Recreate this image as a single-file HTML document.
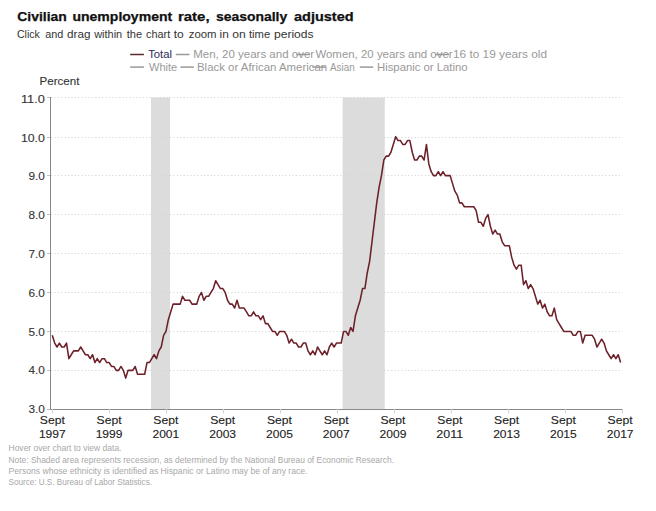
<!DOCTYPE html>
<html><head><meta charset="utf-8"><style>
html,body{margin:0;padding:0;background:#fff;width:656px;height:511px;overflow:hidden}
svg{display:block;font-family:"Liberation Sans", sans-serif}
</style></head><body>
<svg width="656" height="511" viewBox="0 0 656 511" font-family='"Liberation Sans", sans-serif'><text x="17.19" y="21.2" font-size="12.3" fill="#111" font-weight="bold" text-anchor="start" textLength="49.62" lengthAdjust="spacingAndGlyphs" stroke="#111" stroke-width="0.25" >Civilian</text>
<text x="72.4" y="21.2" font-size="12.3" fill="#111" font-weight="bold" text-anchor="start" textLength="99.8" lengthAdjust="spacingAndGlyphs" stroke="#111" stroke-width="0.25" >unemployment</text>
<text x="177.96" y="21.2" font-size="12.3" fill="#111" font-weight="bold" text-anchor="start" textLength="31.67" lengthAdjust="spacingAndGlyphs" stroke="#111" stroke-width="0.25" >rate,</text>
<text x="216.0" y="21.2" font-size="12.3" fill="#111" font-weight="bold" text-anchor="start" textLength="71.2" lengthAdjust="spacingAndGlyphs" stroke="#111" stroke-width="0.25" >seasonally</text>
<text x="294.0" y="21.2" font-size="12.3" fill="#111" font-weight="bold" text-anchor="start" textLength="59.61" lengthAdjust="spacingAndGlyphs" stroke="#111" stroke-width="0.25" >adjusted</text>
<text x="16.97" y="37.8" font-size="10.5" fill="#333" font-weight="normal" text-anchor="start" textLength="22.86" lengthAdjust="spacingAndGlyphs" >Click</text>
<text x="45.17" y="37.8" font-size="10.5" fill="#333" font-weight="normal" text-anchor="start" textLength="18.06" lengthAdjust="spacingAndGlyphs" >and</text>
<text x="67.0" y="37.8" font-size="10.5" fill="#333" font-weight="normal" text-anchor="start" textLength="23.43" lengthAdjust="spacingAndGlyphs" >drag</text>
<text x="94.18" y="37.8" font-size="10.5" fill="#333" font-weight="normal" text-anchor="start" textLength="28.02" lengthAdjust="spacingAndGlyphs" >within</text>
<text x="126.8" y="37.8" font-size="10.5" fill="#333" font-weight="normal" text-anchor="start" textLength="15.4" lengthAdjust="spacingAndGlyphs" >the</text>
<text x="146.0" y="37.8" font-size="10.5" fill="#333" font-weight="normal" text-anchor="start" textLength="24.21" lengthAdjust="spacingAndGlyphs" >chart</text>
<text x="173.8" y="37.8" font-size="10.5" fill="#333" font-weight="normal" text-anchor="start" textLength="10.0" lengthAdjust="spacingAndGlyphs" >to</text>
<text x="188.77" y="37.8" font-size="10.5" fill="#333" font-weight="normal" text-anchor="start" textLength="27.85" lengthAdjust="spacingAndGlyphs" >zoom</text>
<text x="219.6" y="37.8" font-size="10.5" fill="#333" font-weight="normal" text-anchor="start" textLength="9.25" lengthAdjust="spacingAndGlyphs" >in</text>
<text x="232.36" y="37.8" font-size="10.5" fill="#333" font-weight="normal" text-anchor="start" textLength="13.46" lengthAdjust="spacingAndGlyphs" >on</text>
<text x="248.97" y="37.8" font-size="10.5" fill="#333" font-weight="normal" text-anchor="start" textLength="21.25" lengthAdjust="spacingAndGlyphs" >time</text>
<text x="273.99" y="37.8" font-size="10.5" fill="#333" font-weight="normal" text-anchor="start" textLength="39.61" lengthAdjust="spacingAndGlyphs" >periods</text>
<line x1="130.2" y1="54.5" x2="143.9" y2="54.5" stroke="#5a2a2e" stroke-width="1.5"/>
<text x="148.19" y="57.7" font-size="10.5" fill="#2b2b5c" font-weight="normal" text-anchor="start" textLength="23.81" lengthAdjust="spacingAndGlyphs" >Total</text>
<line x1="175.8" y1="54.5" x2="189.5" y2="54.5" stroke="#999" stroke-width="1.5"/>
<text x="193.19" y="57.7" font-size="10.5" fill="#999" font-weight="normal" text-anchor="start" textLength="121.01" lengthAdjust="spacingAndGlyphs" >Men, 20 years and over</text>
<line x1="296.4" y1="54.5" x2="309.7" y2="54.5" stroke="#999" stroke-width="1.5"/>
<text x="315.4" y="57.7" font-size="10.5" fill="#999" font-weight="normal" text-anchor="start" textLength="137.2" lengthAdjust="spacingAndGlyphs" >Women, 20 years and over</text>
<line x1="435.5" y1="54.5" x2="449" y2="54.5" stroke="#999" stroke-width="1.5"/>
<text x="452.99" y="57.7" font-size="10.5" fill="#999" font-weight="normal" text-anchor="start" textLength="94.01" lengthAdjust="spacingAndGlyphs" >16 to 19 years old</text>
<line x1="130.2" y1="67.1" x2="143.9" y2="67.1" stroke="#999" stroke-width="1.5"/>
<text x="148.98" y="70.5" font-size="10.5" fill="#999" font-weight="normal" text-anchor="start" textLength="28.24" lengthAdjust="spacingAndGlyphs" >White</text>
<line x1="180.4" y1="67.1" x2="193.8" y2="67.1" stroke="#999" stroke-width="1.5"/>
<text x="196.99" y="70.5" font-size="10.5" fill="#999" font-weight="normal" text-anchor="start" textLength="130.22" lengthAdjust="spacingAndGlyphs" >Black or African American</text>
<line x1="312.2" y1="67.1" x2="325.6" y2="67.1" stroke="#999" stroke-width="1.5"/>
<text x="330.0" y="70.5" font-size="10.5" fill="#999" font-weight="normal" text-anchor="start" textLength="24.6" lengthAdjust="spacingAndGlyphs" >Asian</text>
<line x1="359.8" y1="67.1" x2="373.2" y2="67.1" stroke="#999" stroke-width="1.5"/>
<text x="376.99" y="70.5" font-size="10.5" fill="#999" font-weight="normal" text-anchor="start" textLength="90.62" lengthAdjust="spacingAndGlyphs" >Hispanic or Latino</text>
<text x="39.58" y="85.1" font-size="10.5" fill="#333" font-weight="normal" text-anchor="start" textLength="39.84" lengthAdjust="spacingAndGlyphs" stroke="#333" stroke-width="0.1" >Percent</text>
<rect x="151" y="97.5" width="19" height="311.5" fill="#dcdcdc"/>
<rect x="342.6" y="97.5" width="42.2" height="311.5" fill="#dcdcdc"/>
<line x1="51" y1="370.5" x2="622.5" y2="370.5" stroke="#d6d6d6" stroke-width="1" stroke-dasharray="1.2,2.2"/>
<line x1="51" y1="331.5" x2="622.5" y2="331.5" stroke="#d6d6d6" stroke-width="1" stroke-dasharray="1.2,2.2"/>
<line x1="51" y1="292.5" x2="622.5" y2="292.5" stroke="#d6d6d6" stroke-width="1" stroke-dasharray="1.2,2.2"/>
<line x1="51" y1="253.5" x2="622.5" y2="253.5" stroke="#d6d6d6" stroke-width="1" stroke-dasharray="1.2,2.2"/>
<line x1="51" y1="214.5" x2="622.5" y2="214.5" stroke="#d6d6d6" stroke-width="1" stroke-dasharray="1.2,2.2"/>
<line x1="51" y1="175.5" x2="622.5" y2="175.5" stroke="#d6d6d6" stroke-width="1" stroke-dasharray="1.2,2.2"/>
<line x1="51" y1="137.5" x2="622.5" y2="137.5" stroke="#d6d6d6" stroke-width="1" stroke-dasharray="1.2,2.2"/>
<line x1="51" y1="97.5" x2="622.5" y2="97.5" stroke="#d6d6d6" stroke-width="1" stroke-dasharray="1.2,2.2"/>
<line x1="47" y1="409.5" x2="51" y2="409.5" stroke="#c0c0c0" stroke-width="1"/>
<text x="44.9" y="413.18" font-size="10.5" fill="#333" font-weight="normal" text-anchor="end" textLength="16.4" lengthAdjust="spacingAndGlyphs" stroke="#333" stroke-width="0.1" >3.0</text>
<line x1="47" y1="370.5" x2="51" y2="370.5" stroke="#c0c0c0" stroke-width="1"/>
<text x="44.9" y="374.37" font-size="10.5" fill="#333" font-weight="normal" text-anchor="end" textLength="16.4" lengthAdjust="spacingAndGlyphs" stroke="#333" stroke-width="0.1" >4.0</text>
<line x1="47" y1="331.5" x2="51" y2="331.5" stroke="#c0c0c0" stroke-width="1"/>
<text x="44.9" y="335.56" font-size="10.5" fill="#333" font-weight="normal" text-anchor="end" textLength="16.4" lengthAdjust="spacingAndGlyphs" stroke="#333" stroke-width="0.1" >5.0</text>
<line x1="47" y1="292.5" x2="51" y2="292.5" stroke="#c0c0c0" stroke-width="1"/>
<text x="44.9" y="296.75" font-size="10.5" fill="#333" font-weight="normal" text-anchor="end" textLength="16.4" lengthAdjust="spacingAndGlyphs" stroke="#333" stroke-width="0.1" >6.0</text>
<line x1="47" y1="253.5" x2="51" y2="253.5" stroke="#c0c0c0" stroke-width="1"/>
<text x="44.9" y="257.94" font-size="10.5" fill="#333" font-weight="normal" text-anchor="end" textLength="16.4" lengthAdjust="spacingAndGlyphs" stroke="#333" stroke-width="0.1" >7.0</text>
<line x1="47" y1="214.5" x2="51" y2="214.5" stroke="#c0c0c0" stroke-width="1"/>
<text x="44.9" y="219.13" font-size="10.5" fill="#333" font-weight="normal" text-anchor="end" textLength="16.4" lengthAdjust="spacingAndGlyphs" stroke="#333" stroke-width="0.1" >8.0</text>
<line x1="47" y1="175.5" x2="51" y2="175.5" stroke="#c0c0c0" stroke-width="1"/>
<text x="44.9" y="180.32" font-size="10.5" fill="#333" font-weight="normal" text-anchor="end" textLength="16.4" lengthAdjust="spacingAndGlyphs" stroke="#333" stroke-width="0.1" >9.0</text>
<line x1="47" y1="137.5" x2="51" y2="137.5" stroke="#c0c0c0" stroke-width="1"/>
<text x="44.9" y="141.51" font-size="10.5" fill="#333" font-weight="normal" text-anchor="end" textLength="24.0" lengthAdjust="spacingAndGlyphs" stroke="#333" stroke-width="0.1" >10.0</text>
<line x1="47" y1="97.5" x2="51" y2="97.5" stroke="#c0c0c0" stroke-width="1"/>
<text x="44.9" y="102.7" font-size="10.5" fill="#333" font-weight="normal" text-anchor="end" textLength="24.0" lengthAdjust="spacingAndGlyphs" stroke="#333" stroke-width="0.1" >11.0</text>
<line x1="50.5" y1="97" x2="50.5" y2="409.5" stroke="#888" stroke-width="1"/>
<line x1="50" y1="409.5" x2="622.5" y2="409.5" stroke="#888" stroke-width="1"/>
<line x1="52.5" y1="409" x2="52.5" y2="413.5" stroke="#d2d2d2" stroke-width="1"/>
<text x="52.3" y="423.8" font-size="10.5" fill="#222" font-weight="normal" text-anchor="middle" textLength="25" lengthAdjust="spacingAndGlyphs" stroke="#222" stroke-width="0.1" >Sept</text>
<text x="52.3" y="437.8" font-size="10.5" fill="#222" font-weight="normal" text-anchor="middle" textLength="26.8" lengthAdjust="spacingAndGlyphs" stroke="#222" stroke-width="0.1" >1997</text>
<line x1="109.5" y1="409" x2="109.5" y2="413.5" stroke="#d2d2d2" stroke-width="1"/>
<text x="109.084" y="423.8" font-size="10.5" fill="#222" font-weight="normal" text-anchor="middle" textLength="25" lengthAdjust="spacingAndGlyphs" stroke="#222" stroke-width="0.1" >Sept</text>
<text x="109.084" y="437.8" font-size="10.5" fill="#222" font-weight="normal" text-anchor="middle" textLength="26.8" lengthAdjust="spacingAndGlyphs" stroke="#222" stroke-width="0.1" >1999</text>
<line x1="166.5" y1="409" x2="166.5" y2="413.5" stroke="#d2d2d2" stroke-width="1"/>
<text x="165.868" y="423.8" font-size="10.5" fill="#222" font-weight="normal" text-anchor="middle" textLength="25" lengthAdjust="spacingAndGlyphs" stroke="#222" stroke-width="0.1" >Sept</text>
<text x="165.868" y="437.8" font-size="10.5" fill="#222" font-weight="normal" text-anchor="middle" textLength="26.8" lengthAdjust="spacingAndGlyphs" stroke="#222" stroke-width="0.1" >2001</text>
<line x1="223.5" y1="409" x2="223.5" y2="413.5" stroke="#d2d2d2" stroke-width="1"/>
<text x="222.652" y="423.8" font-size="10.5" fill="#222" font-weight="normal" text-anchor="middle" textLength="25" lengthAdjust="spacingAndGlyphs" stroke="#222" stroke-width="0.1" >Sept</text>
<text x="222.652" y="437.8" font-size="10.5" fill="#222" font-weight="normal" text-anchor="middle" textLength="26.8" lengthAdjust="spacingAndGlyphs" stroke="#222" stroke-width="0.1" >2003</text>
<line x1="280.5" y1="409" x2="280.5" y2="413.5" stroke="#d2d2d2" stroke-width="1"/>
<text x="279.43600000000004" y="423.8" font-size="10.5" fill="#222" font-weight="normal" text-anchor="middle" textLength="25" lengthAdjust="spacingAndGlyphs" stroke="#222" stroke-width="0.1" >Sept</text>
<text x="279.43600000000004" y="437.8" font-size="10.5" fill="#222" font-weight="normal" text-anchor="middle" textLength="26.8" lengthAdjust="spacingAndGlyphs" stroke="#222" stroke-width="0.1" >2005</text>
<line x1="337.5" y1="409" x2="337.5" y2="413.5" stroke="#d2d2d2" stroke-width="1"/>
<text x="336.22" y="423.8" font-size="10.5" fill="#222" font-weight="normal" text-anchor="middle" textLength="25" lengthAdjust="spacingAndGlyphs" stroke="#222" stroke-width="0.1" >Sept</text>
<text x="336.22" y="437.8" font-size="10.5" fill="#222" font-weight="normal" text-anchor="middle" textLength="26.8" lengthAdjust="spacingAndGlyphs" stroke="#222" stroke-width="0.1" >2007</text>
<line x1="394.5" y1="409" x2="394.5" y2="413.5" stroke="#d2d2d2" stroke-width="1"/>
<text x="393.004" y="423.8" font-size="10.5" fill="#222" font-weight="normal" text-anchor="middle" textLength="25" lengthAdjust="spacingAndGlyphs" stroke="#222" stroke-width="0.1" >Sept</text>
<text x="393.004" y="437.8" font-size="10.5" fill="#222" font-weight="normal" text-anchor="middle" textLength="26.8" lengthAdjust="spacingAndGlyphs" stroke="#222" stroke-width="0.1" >2009</text>
<line x1="451.5" y1="409" x2="451.5" y2="413.5" stroke="#d2d2d2" stroke-width="1"/>
<text x="449.788" y="423.8" font-size="10.5" fill="#222" font-weight="normal" text-anchor="middle" textLength="25" lengthAdjust="spacingAndGlyphs" stroke="#222" stroke-width="0.1" >Sept</text>
<text x="449.788" y="437.8" font-size="10.5" fill="#222" font-weight="normal" text-anchor="middle" textLength="26.8" lengthAdjust="spacingAndGlyphs" stroke="#222" stroke-width="0.1" >2011</text>
<line x1="508.5" y1="409" x2="508.5" y2="413.5" stroke="#d2d2d2" stroke-width="1"/>
<text x="506.57200000000006" y="423.8" font-size="10.5" fill="#222" font-weight="normal" text-anchor="middle" textLength="25" lengthAdjust="spacingAndGlyphs" stroke="#222" stroke-width="0.1" >Sept</text>
<text x="506.57200000000006" y="437.8" font-size="10.5" fill="#222" font-weight="normal" text-anchor="middle" textLength="26.8" lengthAdjust="spacingAndGlyphs" stroke="#222" stroke-width="0.1" >2013</text>
<line x1="565.5" y1="409" x2="565.5" y2="413.5" stroke="#d2d2d2" stroke-width="1"/>
<text x="563.356" y="423.8" font-size="10.5" fill="#222" font-weight="normal" text-anchor="middle" textLength="25" lengthAdjust="spacingAndGlyphs" stroke="#222" stroke-width="0.1" >Sept</text>
<text x="563.356" y="437.8" font-size="10.5" fill="#222" font-weight="normal" text-anchor="middle" textLength="26.8" lengthAdjust="spacingAndGlyphs" stroke="#222" stroke-width="0.1" >2015</text>
<line x1="622.5" y1="409" x2="622.5" y2="413.5" stroke="#d2d2d2" stroke-width="1"/>
<text x="620.14" y="423.8" font-size="10.5" fill="#222" font-weight="normal" text-anchor="middle" textLength="25" lengthAdjust="spacingAndGlyphs" stroke="#222" stroke-width="0.1" >Sept</text>
<text x="620.14" y="437.8" font-size="10.5" fill="#222" font-weight="normal" text-anchor="middle" textLength="26.8" lengthAdjust="spacingAndGlyphs" stroke="#222" stroke-width="0.1" >2017</text>
<polyline points="52.30,335.29 54.67,343.08 57.04,346.98 59.40,343.08 61.77,346.98 64.14,346.98 66.51,343.08 68.88,358.67 71.24,354.77 73.61,350.88 75.98,350.88 78.35,350.88 80.72,346.98 83.08,350.88 85.45,354.77 87.82,354.77 90.19,358.67 92.56,354.77 94.92,362.56 97.29,358.67 99.66,362.56 102.03,358.67 104.40,358.67 106.76,362.56 109.13,362.56 111.50,366.46 113.87,366.46 116.24,370.35 118.60,370.35 120.97,366.46 123.34,370.35 125.71,378.14 128.08,370.35 130.44,370.35 132.81,370.35 135.18,366.46 137.55,374.25 139.92,374.25 142.28,374.25 144.65,374.25 147.02,362.56 149.39,362.56 151.76,358.67 154.12,354.77 156.49,358.67 158.86,350.88 161.23,346.98 163.60,335.29 165.96,331.40 168.33,319.72 170.70,311.93 173.07,304.13 175.44,304.13 177.80,304.13 180.17,304.13 182.54,296.34 184.91,300.24 187.28,300.24 189.64,300.24 192.01,304.13 194.38,304.13 196.75,304.13 199.12,296.34 201.48,292.45 203.85,300.24 206.22,296.34 208.59,296.34 210.96,292.45 213.32,288.56 215.69,280.76 218.06,284.66 220.43,288.56 222.80,288.56 225.16,292.45 227.53,300.24 229.90,304.13 232.27,304.13 234.64,308.03 237.00,300.24 239.37,308.03 241.74,308.03 244.11,308.03 246.48,311.93 248.84,315.82 251.21,315.82 253.58,311.93 255.95,315.82 258.32,315.82 260.68,319.72 263.05,315.82 265.42,323.61 267.79,323.61 270.16,327.50 272.52,331.40 274.89,331.40 277.26,335.29 279.63,331.40 282.00,331.40 284.36,331.40 286.73,335.29 289.10,343.08 291.47,339.19 293.84,343.08 296.20,343.08 298.57,346.98 300.94,346.98 303.31,343.08 305.68,343.08 308.04,350.88 310.41,354.77 312.78,350.88 315.15,354.77 317.52,346.98 319.88,350.88 322.25,354.77 324.62,350.88 326.99,354.77 329.36,346.98 331.72,343.08 334.09,346.98 336.46,343.08 338.83,343.08 341.20,343.08 343.56,331.40 345.93,331.40 348.30,335.29 350.67,327.50 353.04,331.40 355.40,315.82 357.77,308.03 360.14,300.24 362.51,288.56 364.88,288.56 367.24,272.98 369.61,261.29 371.98,241.81 374.35,222.34 376.72,202.86 379.08,187.29 381.45,175.60 383.82,160.02 386.19,156.12 388.56,156.12 390.92,152.23 393.29,144.44 395.66,136.65 398.03,140.54 400.40,140.54 402.76,144.44 405.13,144.44 407.50,140.54 409.87,140.54 412.24,152.23 414.60,160.02 416.97,160.02 419.34,156.12 421.71,156.12 424.08,160.02 426.44,144.44 428.81,163.91 431.18,171.71 433.55,175.60 435.92,175.60 438.28,171.71 440.65,175.60 443.02,171.71 445.39,175.60 447.76,175.60 450.12,175.60 452.49,183.39 454.86,191.18 457.23,195.07 459.60,202.86 461.96,202.86 464.33,206.76 466.70,206.76 469.07,206.76 471.44,206.76 473.80,206.76 476.17,210.66 478.54,222.34 480.91,222.34 483.28,226.23 485.64,218.44 488.01,214.55 490.38,226.23 492.75,234.03 495.12,230.13 497.48,234.03 499.85,234.03 502.22,241.81 504.59,245.71 506.96,245.71 509.32,245.71 511.69,257.39 514.06,265.19 516.43,269.08 518.80,265.19 521.16,265.19 523.53,284.66 525.90,280.76 528.27,288.56 530.64,284.66 533.00,288.56 535.37,296.34 537.74,304.13 540.11,300.24 542.48,308.03 544.84,304.13 547.21,311.93 549.58,315.82 551.95,315.82 554.32,308.03 556.68,319.72 559.05,323.61 561.42,327.50 563.79,331.40 566.16,331.40 568.52,331.40 570.89,331.40 573.26,335.29 575.63,335.29 578.00,331.40 580.36,331.40 582.73,343.08 585.10,335.29 587.47,335.29 589.84,335.29 592.20,335.29 594.57,339.19 596.94,346.98 599.31,343.08 601.68,339.19 604.04,343.08 606.41,350.88 608.78,354.77 611.15,358.67 613.52,354.77 615.88,358.67 618.25,354.77 620.62,362.56" fill="none" stroke="#6c2029" stroke-width="1.55" stroke-linejoin="round"/>
<text x="8.5" y="451.4" font-size="8.6" fill="#a8a8a8" font-weight="normal" text-anchor="start" textLength="113" lengthAdjust="spacingAndGlyphs" >Hover over chart to view data.</text>
<text x="8.5" y="462.5" font-size="8.6" fill="#a8a8a8" font-weight="normal" text-anchor="start" textLength="385.5" lengthAdjust="spacingAndGlyphs" >Note: Shaded area represents recession, as determined by the National Bureau of Economic Research.</text>
<text x="8.5" y="473.6" font-size="8.6" fill="#a8a8a8" font-weight="normal" text-anchor="start" textLength="299" lengthAdjust="spacingAndGlyphs" >Persons whose ethnicity is identified as Hispanic or Latino may be of any race.</text>
<text x="8.5" y="484.7" font-size="8.6" fill="#a8a8a8" font-weight="normal" text-anchor="start" textLength="143.5" lengthAdjust="spacingAndGlyphs" >Source: U.S. Bureau of Labor Statistics.</text></svg>
</body></html>
